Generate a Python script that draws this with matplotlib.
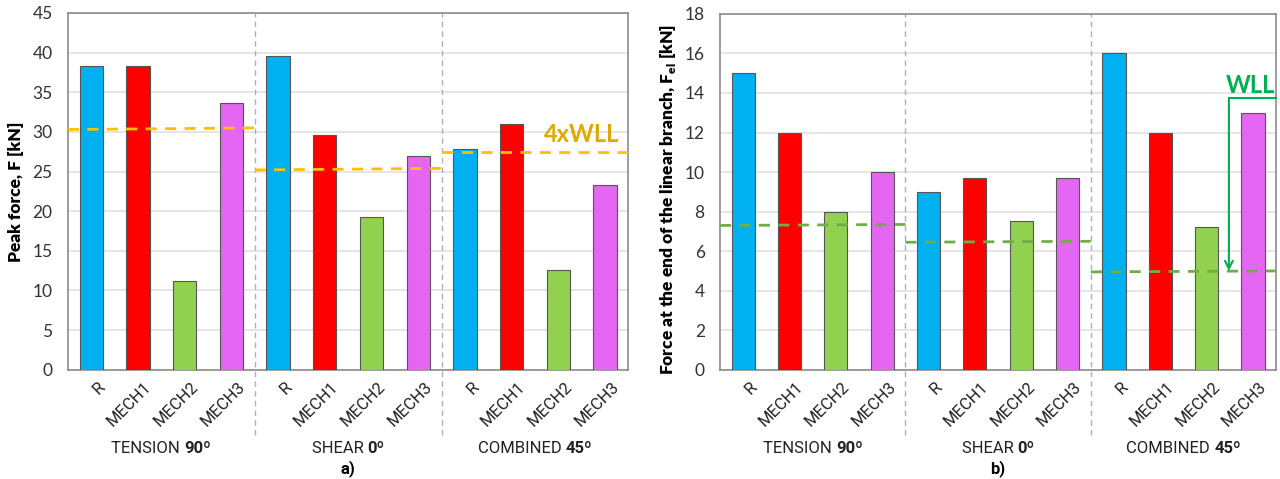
import matplotlib.pyplot as plt
import matplotlib.transforms as mtransforms
from matplotlib.offsetbox import TextArea, HPacker, AnnotationBbox
import numpy as np

plt.rcParams['font.family'] = ['Lato', 'DejaVu Sans']

# categories
groups = ['TENSION', 'SHEAR', 'COMBINED']
angles = ['90º', '0º', '45º']
specimens = ['R', 'MECH1', 'MECH2', 'MECH3']

# a) peak force [kN]
peak_tension = [38.3, 38.3, 11.2, 33.6]
peak_shear = [39.6, 29.6, 19.3, 27.0]
peak_combined = [27.9, 31.0, 12.6, 23.3]
wll4_levels = [(30.3, 30.5), (25.2, 25.4), (27.5, 27.5)]

# b) force at the end of the linear branch [kN]
fel_tension = [15.0, 12.0, 8.0, 10.0]
fel_shear = [9.0, 9.7, 7.5, 9.7]
fel_combined = [16.0, 12.0, 7.2, 13.0]
wll_levels = [(7.3, 7.35), (6.45, 6.5), (4.95, 5.0)]

colors = ['#00B0F0', '#FF0000', '#92D050', '#E566F2']


def draw_panel(fig, ax, values, levels, line_color, ymax, ystep, ylabel, panel):
    n = len(specimens)
    x = np.arange(len(values))
    ax.bar(x, values, width=0.5, color=colors * len(groups),
           edgecolor='#555555', linewidth=0.8, zorder=3)
    ax.set_xlim(-0.5, len(values) - 0.5)
    ax.set_ylim(0, ymax)
    ax.set_yticks(np.arange(0, ymax + 0.1, ystep))
    ax.grid(axis='y', color='#e3e3e3', linewidth=1.3, zorder=0)
    for s in ax.spines.values():
        s.set_color('#8c8c8c')
        s.set_linewidth(1.2)
    ax.tick_params(axis='y', length=0, labelsize=12.5, pad=11, labelcolor='#333333')
    ax.tick_params(axis='x', length=0, pad=7)
    ax.set_xticks(x)
    ax.set_xticklabels(specimens * len(groups), rotation=45, ha='right',
                       rotation_mode='anchor', fontsize=12, family='Roboto',
                       color='#222222')
    shift = mtransforms.ScaledTranslation(6 / 100, 0, fig.dpi_scale_trans)
    for lab in ax.get_xticklabels():
        lab.set_transform(lab.get_transform() + shift)
    ax.set_ylabel(ylabel, fontsize=12.5, fontweight='heavy', labelpad=6)

    # group separators
    for k in range(1, len(groups)):
        ax.plot([k * n - 0.5, k * n - 0.5], [-0.183, 1], transform=ax.get_xaxis_transform(),
                color='#b0b0b0', linestyle=(0, (4, 3)), linewidth=1.0, zorder=2,
                clip_on=False)

    # limit lines
    for k, (y0, y1) in enumerate(levels):
        ax.plot([k * n - 0.5, (k + 1) * n - 0.5], [y0, y1], color=line_color,
                linestyle=(0, (4, 3)), linewidth=2, zorder=4)

    # group labels
    for k, (g, a) in enumerate(zip(groups, angles)):
        xc = k * n + (n - 1) / 2
        box = HPacker(children=[
            TextArea(g + ' ', textprops=dict(fontsize=12, family='Roboto', color='#222222')),
            TextArea(a, textprops=dict(fontsize=12, family='Roboto', fontweight='bold',
                                       color='#222222'))], pad=0, sep=0)
        ab = AnnotationBbox(box, (xc, 0), xycoords=('data', 'axes fraction'),
                            xybox=(0, -56.5), boxcoords='offset points',
                            frameon=False, box_alignment=(0.5, 0.5),
                            annotation_clip=False)
        ax.add_artist(ab)
    ax.annotate(panel, xy=(0.5, 0), xycoords='axes fraction', xytext=(0, -71),
                textcoords='offset points', ha='center', va='center',
                fontsize=12, family='Roboto', fontweight='bold')


fig = plt.figure(figsize=(12.8, 4.79), dpi=100)
ax1 = fig.add_axes([0.053, 0.228, 0.438, 0.745])
ax2 = fig.add_axes([0.5625, 0.228, 0.4345, 0.743])

draw_panel(fig, ax1, peak_tension + peak_shear + peak_combined, wll4_levels,
           '#FFC000', 45, 5, 'Peak force, F [kN]', 'a)')
ax1.text(11.3, 28.7, '4xWLL', ha='right', va='baseline', fontsize=17,
         fontweight='bold', color='#E0A800')

draw_panel(fig, ax2, fel_tension + fel_shear + fel_combined, wll_levels,
           '#70AD47', 18, 2, 'Force at the end of the linear branch, F$_{\\mathregular{el}}$ [kN]', 'b)')
ax2.yaxis.set_label_coords(-0.075, 0.48)
ax2.text(11.47, 14.0, 'WLL', ha='right', va='baseline', fontsize=17,
         fontweight='bold', color='#00B050')
ax2.plot([10.48, 11.5], [13.75, 13.75], color='#00B050', linewidth=1.5,
         clip_on=False, zorder=5)
ax2.annotate('', xy=(10.48, 5.0), xytext=(10.48, 13.75),
             arrowprops=dict(arrowstyle='->', color='#00B050', lw=1.5,
                             mutation_scale=14, shrinkA=0, shrinkB=0), zorder=5)

fig.savefig('out.png', dpi=100)
